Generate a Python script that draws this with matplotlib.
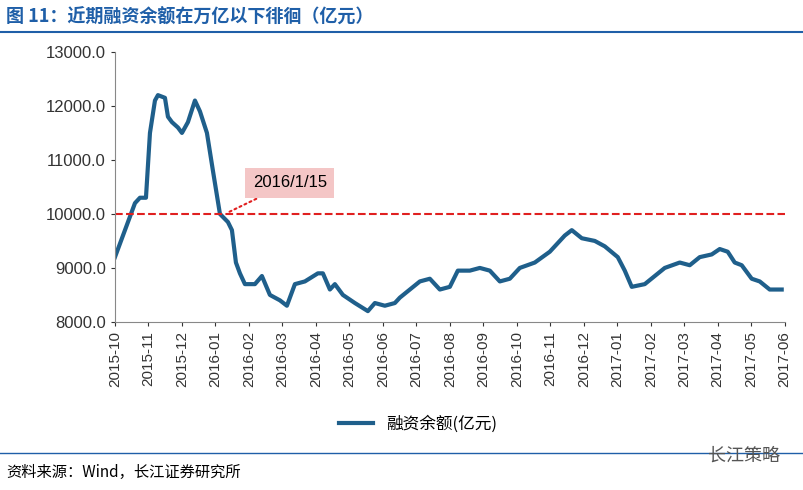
import matplotlib
matplotlib.use("Agg")
import matplotlib.pyplot as plt
import numpy as np

plt.rcParams['font.family'] = ['Noto Sans CJK SC', 'DejaVu Sans']

months = ['2015-10','2015-11','2015-12','2016-01','2016-02','2016-03','2016-04','2016-05',
          '2016-06','2016-07','2016-08','2016-09','2016-10','2016-11','2016-12','2017-01',
          '2017-02','2017-03','2017-04','2017-05','2017-06']
px = [115,125,135,140,146,150,155,158,165,168,172,178,182,188,195,200,207,213,220,228,232,236,240,
      245,255,262,270,280,287,295,305,318,323,330,335,343,355,368,375,385,395,400,410,420,430,440,
      450,458,470,480,490,500,510,520,535,550,565,572,582,595,605,618,625,632,645,655,665,680,690,
      700,712,720,728,735,742,752,760,770,782]
vals = [9200,9700,10200,10300,10300,11500,12100,12200,12150,11800,11700,11600,11500,11700,12100,11900,
        11500,10800,10000,9850,9700,9100,8900,8700,8700,8850,8500,8400,8300,8700,8750,8900,8900,8600,
        8700,8500,8350,8200,8350,8300,8350,8450,8600,8750,8800,8600,8650,8950,8950,9000,8950,8750,8800,
        9000,9100,9300,9600,9700,9550,9500,9400,9200,8950,8650,8700,8850,9000,9100,9050,9200,9250,9350,
        9300,9100,9050,8800,8750,8600,8600]
t = [(p - 115) / 33.5 for p in px]

fig = plt.figure(figsize=(8.04, 4.9), dpi=100)
ax = fig.add_axes([0.143, 0.343, 0.833, 0.551])
ax.plot(t, vals, color='#1f5f8b', lw=3, label='融资余额(亿元)')
ax.axhline(10000, color='#e02020', ls='--', lw=1.5)
ax.set_xlim(0, 20)
ax.set_ylim(8000, 13000)
ax.set_yticks(np.arange(8000, 13001, 1000))
ax.set_yticklabels([f'{v:.1f}' for v in range(8000, 13001, 1000)], fontsize=12, family='Liberation Sans')
ax.set_xticks(range(len(months)))
ax.set_xticklabels(months, rotation=90, fontsize=11, family='Liberation Sans')
for s in ['top', 'right']:
    ax.spines[s].set_visible(False)
ax.spines['left'].set_color('#888888')
ax.spines['bottom'].set_color('#888888')
ax.tick_params(length=3, colors='#333333')

ax.annotate('2016/1/15', xy=((225-115)/33.5, 10000), xytext=((290-115)/33.5, 10580),
            fontsize=12, family='Liberation Sans', ha='center', va='center',
            bbox=dict(boxstyle='square,pad=0.45', fc='#f4c6c6', ec='none'),
            arrowprops=dict(arrowstyle='-', ls=':', color='#e02020', lw=1.5))

fig.legend(loc='center', bbox_to_anchor=(0.52, 0.135), frameon=False, fontsize=12)

fig.text(0.008, 0.965, '图 11：近期融资余额在万亿以下徘徊（亿元）', color='#1f5fa8', fontsize=13, fontweight='bold', va='center')
fig.add_artist(plt.Line2D([0, 1], [0.935, 0.935], color='#1f5fa8', lw=1.5))
fig.add_artist(plt.Line2D([0, 1], [0.075, 0.075], color='#1f5fa8', lw=1))
fig.text(0.008, 0.035, '资料来源：Wind，长江证券研究所', fontsize=11, va='center')
fig.text(0.88, 0.07, '长江策略', fontsize=13, color='#555555', va='center')

fig.savefig('out.png', dpi=100)
